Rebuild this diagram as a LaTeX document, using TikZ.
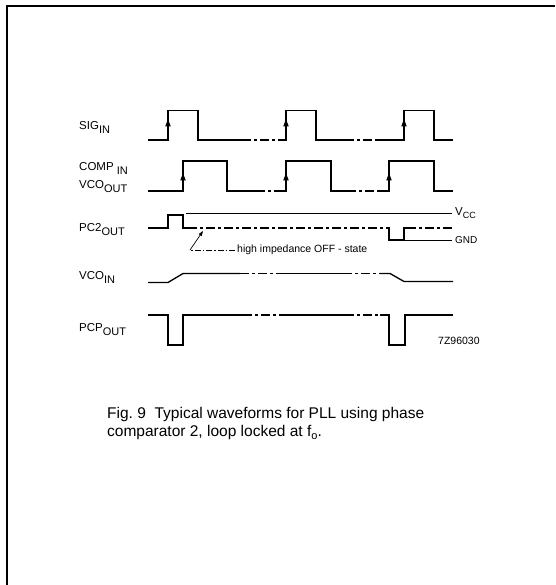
\documentclass[tikz,border=0pt]{standalone}
\usepackage{fontspec}
\setmainfont{Liberation Sans}
\usetikzlibrary{arrows.meta}
\newcommand{\lsub}[1]{\raisebox{-4pt}{\fontsize{11}{11}\selectfont #1}}
\newcommand{\edgearr}[2]{\fill (#1-2.8,#2+3.5) -- (#1+2.8,#2+3.5) -- (#1,#2-4) -- cycle;}
\begin{document}
\begin{tikzpicture}[x=1pt,y=-1pt,
  wave/.style={line width=1.3pt, line join=miter, line cap=butt},
  brk/.style={wave, dash pattern=on 9pt off 3pt on 3pt off 3pt},
  rail/.style={line width=0.9pt},
  lbl/.style={anchor=base west, inner sep=0pt, font=\fontsize{11.5}{11.5}\selectfont},
  small/.style={anchor=west, inner sep=0pt, font=\fontsize{10.5}{10.5}\selectfont}]
\useasboundingbox (0,0) rectangle (555,585);
% frame
\draw[line width=1.8pt] (7,585) -- (7,6) -- (555,6);

% labels
\node[lbl] (sig) at (79,129.5) {SIG\lsub{IN}};
\node[lbl] (comp) at (79,171) {COMP \lsub{IN}};
\node[lbl] (vcoout) at (79,189) {VCO\lsub{OUT}};
\node[lbl] (pc2) at (79,231) {PC2\lsub{OUT}};
\node[lbl] (vcoin) at (79,279) {VCO\lsub{IN}};
\node[lbl] (pcp) at (79,331) {PCP\lsub{OUT}};

% SIG_IN
\draw[wave] (148,140) -- (168,140) -- (168,110.5) -- (198,110.5) -- (198,140) -- (242,140);
\draw[brk] (242,140) -- (280,140);
\draw[wave] (280,140) -- (286,140) -- (286,110.5) -- (316,110.5) -- (316,140) -- (345,140);
\draw[brk] (345,140) -- (378,140);
\draw[wave] (378,140) -- (404,140) -- (404,110.5) -- (434,110.5) -- (434,140) -- (453,140);
\edgearr{168}{123}
\edgearr{286}{123}
\edgearr{404}{123}

% COMP_IN / VCO_OUT
\draw[wave] (148,191) -- (183,191) -- (183,161) -- (227,161) -- (227,191) -- (256,191);
\draw[brk] (256,191) -- (281,191);
\draw[wave] (281,191) -- (286,191) -- (286,161) -- (331,161) -- (331,191) -- (347,191);
\draw[brk] (347,191) -- (380,191);
\draw[wave] (380,191) -- (389,191) -- (389,161) -- (434,161) -- (434,191) -- (453,191);
\edgearr{183}{177}
\edgearr{286}{177}
\edgearr{389}{177}

% PC2_OUT
\draw[rail] (186,213) -- (452,213);
\draw[wave] (148,228) -- (168,228) -- (168,215) -- (183,215) -- (183,228) -- (188,228);
\draw[brk] (188,228) -- (386,228);
\draw[wave] (386,228) -- (389,228) -- (389,240) -- (404,240) -- (404,228) -- (407,228);
\draw[brk] (407,228) -- (452,228);
\draw[rail] (404,240) -- (452,240);
\node[lbl] (vcc) at (455,215.5) {V\raisebox{-3pt}{\fontsize{9}{9}\selectfont CC}};
\node[small, font=\fontsize{10}{10}\selectfont] (gnd) at (455,240) {GND};

% high impedance annotation
\node[small] (hiz) at (237,250) {high impedance OFF - state};
\coordinate (hizc) at (190,250);
\coordinate (hizt) at (203,231);
\draw[line width=0.7pt, dash pattern=on 6pt off 2pt on 1.5pt off 2pt] (hiz.west) ++(-2,0) -- (hizc);
\draw[line width=0.7pt, -{Triangle[length=5pt,width=3.5pt]}] (hizc) -- (hizt);

% VCO_IN
\draw[wave] (148,282.5) -- (168,282.5) -- (183,273.5) -- (240,273.5);
\draw[brk] (240,273.5) -- (280,273.5);
\draw[wave] (280,273.5) -- (343,273.5);
\draw[brk] (343,273.5) -- (380,273.5);
\draw[wave] (380,273.5) -- (390,273.5) -- (404,281.5) -- (453,281.5);

% PCP_OUT
\draw[wave] (148,315) -- (168,315) -- (168,345) -- (183,345) -- (183,315) -- (243,315);
\draw[brk] (243,315) -- (283,315);
\draw[wave] (283,315) -- (345,315);
\draw[brk] (345,315) -- (380,315);
\draw[wave] (380,315) -- (389,315) -- (389,345) -- (405,345) -- (405,315) -- (453,315);

\node[small] (code) at (438,341) {7Z96030};

% caption
\node[anchor=base west, inner sep=0pt, align=left, font=\fontsize{15.5}{18}\selectfont] (cap) at (107,436)
  {Fig.\ 9\ \ Typical waveforms for PLL using phase\\comparator 2, loop locked at f\raisebox{-3pt}{\fontsize{11}{11}\selectfont o}.};
\end{tikzpicture}
\end{document}
